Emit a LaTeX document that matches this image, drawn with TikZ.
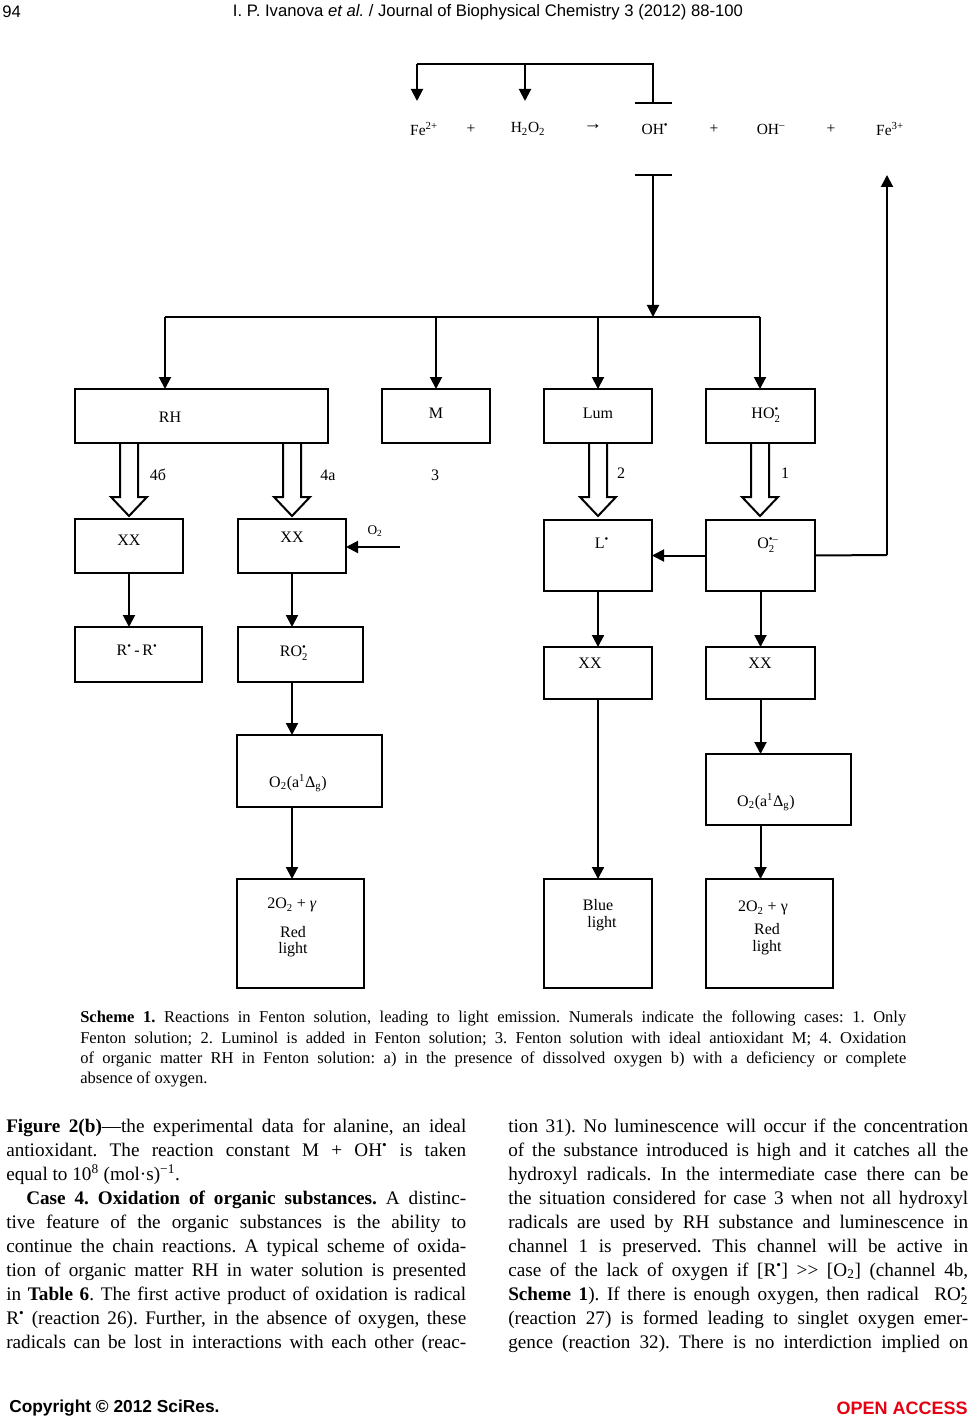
\documentclass[tikz,border=0pt]{standalone}
\usepackage{amsmath}
\usepackage{fontspec}
\setmainfont{Liberation Serif}
\newfontfamily\hdfont{Liberation Sans}
\usetikzlibrary{arrows.meta}
\definecolor{oared}{RGB}{230,0,18}
\frenchspacing
\newcommand\rad{\textsuperscript{\textbullet}}
\newcommand\supsub[2]{\ensuremath{^{\text{#1}}_{\text{#2}}}}
\newcommand\bodyf{\fontsize{14.4}{17}\selectfont}
\newcommand\capf{\fontsize{12.4}{14}\selectfont}
\newcommand\labf{\fontsize{12}{14}\selectfont}
\newcommand\rxf{\fontsize{11.6}{14}\selectfont}
\begin{document}
\begin{tikzpicture}[x=0.75pt,y=-0.75pt,
  box/.style={draw,line width=1.5pt,inner sep=0pt,outer sep=0pt},
  arr/.style={line width=1.5pt,-{Triangle[length=9pt,width=9pt]}},
  ln/.style={line width=1.5pt},
  hol/.style={line width=1.5pt,line join=miter},
  lab/.style={inner sep=0pt,font=\labf},
  rx/.style={inner sep=0pt,font=\rxf},
  bl/.style={anchor=base west,inner sep=0pt,font=\bodyf},
  cl/.style={anchor=base west,inner sep=0pt,font=\capf}]
\useasboundingbox (0,0) rectangle (970,1419);
\newcommand\bx[5]{\node[box,minimum width={(#4-#2)*0.75pt},minimum height={(#5-#3)*0.75pt}] (#1) at ({(#2+#4)/2},{(#3+#5)/2}) {};}
\newcommand\hollow[3]{\draw[hol] (#1-9,#2) -- (#1-9,#3-19) -- (#1-18,#3-19) -- (#1,#3) -- (#1+18,#3-19) -- (#1+9,#3-19) -- (#1+9,#2);}

% header
\node[anchor=west,inner sep=0pt,font=\hdfont\fontsize{12.5}{14}\selectfont] (pg) at (2,12) {94};
\node[inner sep=0pt,font=\hdfont\fontsize{12.5}{14}\selectfont] (hd) at (488,12) {I. P. Ivanova \textit{et al.} / Journal of Biophysical Chemistry 3 (2012) 88-100};

% reaction row
\node[rx] (fe2) at (424,129) {Fe\textsuperscript{2+}};
\node[rx] (p1) at (471,129) {+};
\node[rx] (h2o2) at (528,129) {H\textsubscript{2}O\textsubscript{2}};
\node[rx,font=\fontsize{14}{14}\selectfont] (ra) at (593,127) {→};
\node[rx] (oh) at (655,129) {OH\rad};
\node[rx] (p2) at (714,129) {+};
\node[rx] (ohm) at (771,129) {OH\textsuperscript{–}};
\node[rx] (p3) at (831,129) {+};
\node[rx] (fe3) at (890,129) {Fe\textsuperscript{3+}};

% top bracket
\coordinate (tA) at (417,64);
\coordinate (tB) at (525,64);
\coordinate (tC) at (653,64);
\coordinate (tCb) at (653,103);
\draw[ln] (tA) -- (tC) -- (tCb);
\draw[ln] (635,103) -- (672,103);
\draw[arr] (tA) -- (417,101);
\draw[arr] (tB) -- (525,101);
\coordinate (tD) at (653,175);
\draw[ln] (635,175) -- (672,175);

% boxes
\bx{RH}{75}{389}{328}{443}
\bx{M}{382}{389}{490}{443}
\bx{Lum}{544}{389}{652}{443}
\bx{HO}{706}{389}{815}{443}
\bx{XXa}{75}{519}{183}{573}
\bx{XXb}{238}{519}{346}{573}
\bx{L}{544}{520}{652}{591}
\bx{Om}{706}{520}{815}{591}
\bx{RR}{75}{627}{202}{682}
\bx{RO}{238}{627}{363}{682}
\bx{XXc}{544}{647}{652}{699}
\bx{XXd}{706}{647}{815}{699}
\bx{SOa}{237}{735}{382}{807}
\bx{SOb}{706}{754}{851}{825}
\bx{Rda}{237}{879}{364}{988}
\bx{Blu}{544}{879}{652}{988}
\bx{Rdb}{706}{879}{833}{988}

% bus
\coordinate (busL) at (165,317);
\coordinate (busR) at (760,317);
\draw[ln] (busL) -- (busR);
\draw[arr] (tD) -- (tD |- busL);
\draw[arr] (busL) -- (busL |- RH.north);
\draw[arr] (M.north |- busL) -- (M.north);
\draw[arr] (Lum.north |- busL) -- (Lum.north);
\draw[arr] (busR) -- (busR |- HO.north);

% hollow arrows
\hollow{129}{443}{516}
\hollow{292}{443}{516}
\hollow{598}{443}{516}
\hollow{760}{443}{516}

% other connectors
\draw[arr] (XXa.south) -- (XXa.south |- RR.north);
\draw[arr] (XXb.south) -- (XXb.south |- RO.north);
\coordinate (o2in) at (400,547);
\draw[arr] (o2in) -- (o2in -| XXb.east);
\draw[arr] (XXb.south |- RO.south) -- (XXb.south |- SOa.north);
\draw[arr] (XXb.south |- SOa.south) -- (XXb.south |- Rda.north);
\draw[arr] (Om.west) -- (L.east);
\coordinate (rt) at (887,555);
\draw[ln] (Om.east) -- (rt);
\draw[arr] (rt) -- (887,175);
\draw[arr] (L.south) -- (XXc.north);
\draw[arr] (XXc.south) -- (Blu.north);
\draw[arr] (Om.south) -- (XXd.north);
\draw[arr] (XXd.south) -- (XXd.south |- SOb.north);
\draw[arr] (XXd.south |- SOb.south) -- (XXd.south |- Rdb.north);

% labels
\node[lab] (tRH) at (170,417) {RH};
\node[lab] (tM) at (436,413) {M};
\node[lab] (tLum) at (598,413) {Lum};
\node[lab] (tHO) at (766,415) {HO\supsub{•}{2}};
\node[lab] (n4b) at (158,475) {4б};
\node[lab] (n4a) at (328,475) {4а};
\node[lab] (n3) at (435,475) {3};
\node[lab] (n2) at (621,473) {2};
\node[lab] (n1) at (785,473) {1};
\node[lab] (tXXa) at (129,540) {XX};
\node[lab] (tXXb) at (292,537) {XX};
\node[lab,font=\fontsize{10}{11}\selectfont] (tO2) at (375,531) {O\textsubscript{2}};
\node[lab] (tL) at (602,543) {L\rad};
\node[lab] (tOm) at (768,545) {O\supsub{•–}{2}};
\node[lab] (tRR) at (137,650) {R\rad\,-\,R\rad};
\node[lab] (tRO) at (294,653) {RO\supsub{•}{2}};
\node[lab] (tXXc) at (590,663) {XX};
\node[lab] (tXXd) at (760,663) {XX};
\node[lab] (tSOa) at (298,783) {O\textsubscript{2}(a\textsuperscript{1}Δ\textsubscript{g})};
\node[lab] (tSOb) at (766,802) {O\textsubscript{2}(a\textsuperscript{1}Δ\textsubscript{g})};
\node[lab] (tRa1) at (292,905) {2O\textsubscript{2} + \textit{γ}};
\node[lab] (tRa2) at (293,932) {Red};
\node[lab] (tRa3) at (293,950) {light};
\node[lab] (tBl1) at (598,905) {Blue};
\node[lab] (tBl2) at (602,924) {light};
\node[lab] (tRb1) at (763,908) {2O\textsubscript{2} + γ};
\node[lab] (tRb2) at (767,929) {Red};
\node[lab] (tRb3) at (767,948) {light};

% caption
\node[cl] (c1) at (80,1022) {\makebox[619.5pt][s]{\textbf{Scheme 1.} Reactions in Fenton solution, leading to light emission. Numerals indicate the following cases: 1. Only}};
\node[cl] (c2) at (80,1043) {\makebox[619.5pt][s]{Fenton solution; 2. Luminol is added in Fenton solution; 3. Fenton solution with ideal antioxidant M; 4. Oxidation}};
\node[cl] (c3) at (80,1063) {\makebox[619.5pt][s]{of organic matter RH in Fenton solution: a) in the presence of dissolved oxygen b) with a deficiency or complete}};
\node[cl] (c4) at (80,1083) {absence of oxygen.};

% body left
\node[bl] (l1) at (6,1132) {\makebox[345pt][s]{\textbf{Figure 2(b)}—the experimental data for alanine, an ideal}};
\node[bl] (l2) at (6,1156) {\makebox[345pt][s]{antioxidant. The reaction constant M + OH\rad{} is taken}};
\node[bl] (l3) at (6,1180) {equal to 10\textsuperscript{8} (mol·s)\textsuperscript{−1}.};
\node[bl] (l4) at (26,1204) {\makebox[330pt][s]{\textbf{Case 4. Oxidation of organic substances.} A distinc-}};
\node[bl] (l5) at (6,1228) {\makebox[345pt][s]{tive feature of the organic substances is the ability to}};
\node[bl] (l6) at (6,1252) {\makebox[345pt][s]{continue the chain reactions. A typical scheme of oxida-}};
\node[bl] (l7) at (6,1276) {\makebox[345pt][s]{tion of organic matter RH in water solution is presented}};
\node[bl] (l8) at (6,1300) {\makebox[345pt][s]{in \textbf{Table 6}. The first active product of oxidation is radical}};
\node[bl] (l9) at (6,1324) {\makebox[345pt][s]{R\rad{} (reaction 26). Further, in the absence of oxygen, these}};
\node[bl] (l10) at (6,1348) {\makebox[345pt][s]{radicals can be lost in interactions with each other (reac-}};

% body right
\node[bl] (r1) at (508,1132) {\makebox[345pt][s]{tion 31). No luminescence will occur if the concentration}};
\node[bl] (r2) at (508,1156) {\makebox[345pt][s]{of the substance introduced is high and it catches all the}};
\node[bl] (r3) at (508,1180) {\makebox[345pt][s]{hydroxyl radicals. In the intermediate case there can be}};
\node[bl] (r4) at (508,1204) {\makebox[345pt][s]{the situation considered for case 3 when not all hydroxyl}};
\node[bl] (r5) at (508,1228) {\makebox[345pt][s]{radicals are used by RH substance and luminescence in}};
\node[bl] (r6) at (508,1252) {\makebox[345pt][s]{channel 1 is preserved. This channel will be active in}};
\node[bl] (r7) at (508,1276) {\makebox[345pt][s]{case of the lack of oxygen if [R\rad] >\kern0pt> [O\textsubscript{2}] (channel 4b,}};
\node[bl] (r8) at (508,1300) {\makebox[345pt][s]{\textbf{Scheme 1}). If there is enough oxygen, then radical \ RO\supsub{•}{2}}};
\node[bl] (r9) at (508,1324) {\makebox[345pt][s]{(reaction 27) is formed leading to singlet oxygen emer-}};
\node[bl] (r10) at (508,1348) {\makebox[345pt][s]{gence (reaction 32). There is no interdiction implied on}};

% footer
\node[anchor=west,inner sep=0pt,font=\hdfont\bfseries\fontsize{13}{15}\selectfont] (cp) at (9,1408) {Copyright © 2012 SciRes.};
\node[anchor=east,inner sep=0pt,text=oared,font=\hdfont\bfseries\fontsize{13.5}{15}\selectfont] (oa) at (968,1408) {OPEN ACCESS};
\end{tikzpicture}
\end{document}
